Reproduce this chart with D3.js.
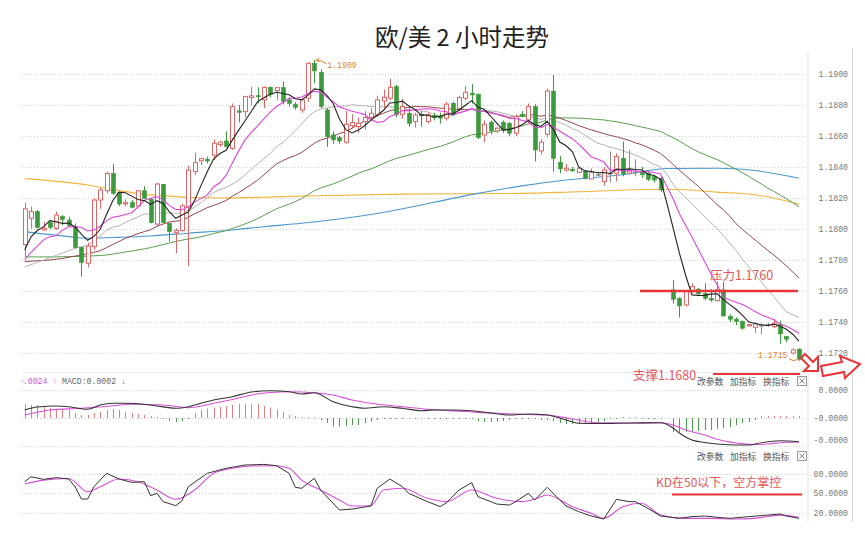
<!DOCTYPE html>
<html><head><meta charset="utf-8">
<script src="https://cdn.jsdelivr.net/npm/d3@7/dist/d3.min.js"></script>
<style>body{margin:0;background:#fff}svg{display:block}</style>
</head><body>
<svg id="c" width="865" height="533"></svg>
<script>
// ---------- DATA ----------
const titleText = "欧/美 2 小时走势";
const priceTicks = [1.19,1.188,1.186,1.184,1.182,1.18,1.178,1.176,1.174,1.172];
const candleOpen = [1.1790,1.18069,1.18112,1.17994,1.18041,1.18004,1.1808,1.18058,1.18015,1.17882,1.17779,1.17886,1.18187,1.18247,1.18359,1.18234,1.18161,1.1817,1.18148,1.18247,1.18192,1.18032,1.18288,1.18036,1.17976,1.1799,1.1814,1.1837,1.1844,1.1845,1.18477,1.18545,1.18568,1.1852,1.18762,1.18757,1.18848,1.1886,1.18833,1.18914,1.18893,1.18912,1.18833,1.18805,1.18768,1.18844,1.19069,1.19011,1.18768,1.18607,1.1859,1.1856,1.18667,1.18661,1.18693,1.18719,1.18736,1.18826,1.18844,1.18919,1.1874,1.18747,1.18693,1.1874,1.18693,1.18732,1.18725,1.18715,1.18811,1.18779,1.18844,1.18876,1.18869,1.18607,1.18689,1.18633,1.18689,1.18682,1.18618,1.1874,1.18704,1.1879,1.18504,1.18611,1.1889,1.1843,1.1838,1.18385,1.18366,1.1837,1.18323,1.18353,1.18306,1.1836,1.1836,1.18456,1.1836,1.18368,1.18372,1.1836,1.18338,1.18327,null,1.17607,1.17553,1.1751,1.17596,1.17611,1.17585,1.17553,1.17538,1.17607,1.17435,1.17418,1.17403,1.17375,1.17366,1.17379,1.17382,1.1737,1.17385,1.17306,1.172,1.17225];
const candleHigh = [1.1817,1.18144,1.18123,1.18047,1.1805,1.18112,1.1809,1.1808,1.18036,1.17886,1.17912,1.18198,1.18265,1.1837,1.1842,1.1824,1.18192,1.18187,1.18252,1.18277,1.18198,1.18299,1.1829,1.18041,1.18004,1.18161,1.1841,1.18493,1.18456,1.18467,1.18578,1.1857,1.1863,1.1881,1.188,1.1886,1.18918,1.18914,1.1892,1.1892,1.18915,1.18951,1.1885,1.1882,1.1884,1.19075,1.1909,1.1903,1.1878,1.1863,1.186,1.18762,1.1874,1.1872,1.1876,1.1878,1.1886,1.189,1.18969,1.1893,1.1884,1.1878,1.1875,1.1876,1.1875,1.1875,1.1875,1.1882,1.1882,1.1886,1.18922,1.18935,1.18875,1.187,1.187,1.1866,1.187,1.1869,1.1874,1.1876,1.1881,1.18805,1.1858,1.18905,1.18995,1.1847,1.1842,1.184,1.184,1.1838,1.1839,1.1837,1.184,1.185,1.18488,1.18564,1.1851,1.1845,1.184,1.1837,1.1835,1.1834,null,1.1767,1.1756,1.17605,1.1765,1.1762,1.1765,1.1761,1.1766,1.1766,1.1745,1.1743,1.1741,1.1739,1.174,1.1739,1.17395,1.1742,1.1741,1.1731,1.1723,1.1723];
const candleLow = [1.1782,1.18004,1.18004,1.1799,1.180,1.17994,1.18026,1.18015,1.17876,1.17693,1.17753,1.17865,1.1813,1.1823,1.1822,1.18148,1.18144,1.18133,1.1814,1.18192,1.18036,1.18015,1.18036,1.17919,1.17843,1.17983,1.1776,1.18349,1.18413,1.18424,1.18445,1.1853,1.18526,1.1851,1.18686,1.1872,1.188,1.1881,1.1878,1.1885,1.1883,1.18805,1.1879,1.1877,1.1875,1.1882,1.18939,1.1878,1.1853,1.1855,1.1855,1.1855,1.1865,1.1862,1.1864,1.187,1.1872,1.1878,1.1883,1.1872,1.1871,1.1866,1.18655,1.1866,1.1868,1.187,1.1868,1.187,1.1873,1.1876,1.1883,1.1881,1.1858,1.1856,1.1861,1.1862,1.1862,1.186,1.186,1.1872,1.1868,1.18436,1.1848,1.1859,1.1837,1.1836,1.1837,1.1837,1.1836,1.1832,1.1832,1.1834,1.1828,1.183,1.18306,1.1834,1.1835,1.1834,1.1833,1.1831,1.183,1.1824,null,1.1752,1.1743,1.175,1.1759,1.1757,1.1754,1.1753,1.1753,1.17435,1.174,1.1738,1.1735,1.1737,1.1733,1.1732,1.1737,1.1736,1.1726,1.1727,1.1719,1.1715];
const candleClose = [1.1813,1.18112,1.18011,1.18004,1.18011,1.1809,1.18062,1.18021,1.1788,1.17783,1.1789,1.18187,1.18252,1.18359,1.1823,1.18161,1.1817,1.1814,1.18247,1.18198,1.18041,1.1829,1.18041,1.17983,1.1799,1.18149,1.1838,1.18428,1.18454,1.18439,1.18553,1.1856,1.18532,1.1879,1.18753,1.18854,1.18859,1.18854,1.18914,1.18869,1.18912,1.18822,1.18811,1.18785,1.18833,1.19069,1.1902,1.1879,1.18596,1.18575,1.18568,1.18676,1.18687,1.18682,1.18719,1.18747,1.18833,1.1885,1.18914,1.18736,1.1879,1.18682,1.18736,1.1873,1.18736,1.18721,1.18715,1.18805,1.1874,1.18848,1.18882,1.18865,1.1859,1.18676,1.18633,1.1865,1.18639,1.18618,1.18725,1.18727,1.1879,1.1851,1.1856,1.1889,1.18456,1.18388,1.18392,1.18375,1.18392,1.18328,1.18366,1.18353,1.18381,1.1836,1.18467,1.18355,1.18375,1.18368,1.1835,1.18321,1.18316,1.18252,null,1.17547,1.17504,1.17596,1.17628,1.17581,1.17553,1.17542,1.17607,1.17439,1.17418,1.17403,1.1736,1.17383,1.17388,1.17379,1.17382,1.17392,1.17323,1.17289,1.1722,1.1716];
const ma5 = [1.17865,1.1795,1.1799,1.18015,1.18054,1.18046,1.18036,1.18038,1.18013,1.17967,1.17927,1.17952,1.17998,1.18094,1.18184,1.18238,1.18234,1.18212,1.1819,1.18183,1.18159,1.18183,1.18163,1.18111,1.18069,1.18091,1.18109,1.18186,1.1828,1.1837,1.18451,1.18487,1.18508,1.18575,1.18638,1.18698,1.18758,1.18822,1.18847,1.1887,1.18882,1.18874,1.18866,1.1884,1.18833,1.18864,1.18904,1.18899,1.18862,1.1881,1.1871,1.18641,1.1862,1.18638,1.18666,1.18702,1.18734,1.18766,1.18813,1.18816,1.18825,1.18794,1.18772,1.18735,1.18735,1.18721,1.18728,1.18741,1.18743,1.18766,1.18798,1.18828,1.18785,1.18772,1.18729,1.18683,1.18638,1.18643,1.18653,1.18672,1.187,1.18674,1.18662,1.18695,1.18641,1.18561,1.18537,1.185,1.18401,1.18375,1.18371,1.18363,1.18364,1.18358,1.18386,1.18384,1.18388,1.18384,1.18382,1.18353,1.18345,1.18321,1.18168,1.18007,1.17844,1.177,1.17575,1.17571,1.17572,1.1758,1.17582,1.17544,1.17512,1.17482,1.17445,1.17401,1.1739,1.17382,1.17378,1.17385,1.17373,1.17353,1.17321,1.17277];
const ma10 = [1.178,1.1785,1.1789,1.1793,1.1795,1.17956,1.17993,1.18014,1.18014,1.18011,1.17987,1.17994,1.18018,1.18054,1.18076,1.18083,1.18093,1.18105,1.18142,1.18184,1.18199,1.18209,1.18188,1.18151,1.18126,1.18125,1.18146,1.18175,1.18196,1.1822,1.18271,1.18298,1.18347,1.18428,1.18504,1.18575,1.18623,1.18665,1.18711,1.18754,1.1879,1.18816,1.18844,1.18844,1.18852,1.18873,1.18889,1.18883,1.18851,1.18822,1.18787,1.18773,1.1876,1.1875,1.18738,1.18706,1.18688,1.18693,1.18726,1.18741,1.18764,1.18764,1.18769,1.18774,1.18776,1.18773,1.18761,1.18757,1.18739,1.18751,1.1876,1.18778,1.18763,1.18758,1.18748,1.18741,1.18733,1.18714,1.18713,1.18701,1.18692,1.18656,1.18653,1.18674,1.18657,1.18631,1.18606,1.18581,1.18548,1.18508,1.18466,1.1845,1.18432,1.1838,1.18381,1.18378,1.18376,1.18374,1.1837,1.1837,1.18365,1.18355,1.18276,1.18195,1.18099,1.18023,1.17948,1.1787,1.1779,1.17712,1.17641,1.1756,1.17542,1.17527,1.17513,1.17492,1.17467,1.17447,1.1743,1.17415,1.17387,1.17372,1.17352,1.17328];
const ma20 = [1.17757,1.1777,1.17785,1.178,1.17815,1.1783,1.17845,1.1786,1.17875,1.17885,1.17894,1.17922,1.17954,1.17992,1.18013,1.1802,1.18043,1.1806,1.18078,1.18098,1.18093,1.18102,1.18103,1.18103,1.18101,1.18104,1.1812,1.1814,1.18169,1.18202,1.18235,1.18254,1.18268,1.1829,1.18315,1.1835,1.18385,1.1842,1.18454,1.18487,1.18531,1.18557,1.18596,1.18636,1.18678,1.18724,1.18756,1.18774,1.18781,1.18788,1.18789,1.18795,1.18802,1.18797,1.18795,1.1879,1.18789,1.18788,1.18789,1.18782,1.18776,1.18769,1.18765,1.18762,1.18757,1.1874,1.18725,1.18725,1.18733,1.18746,1.18762,1.18771,1.18766,1.18766,1.18762,1.18757,1.18747,1.18736,1.18726,1.18726,1.18726,1.18717,1.18708,1.18716,1.18703,1.18686,1.1867,1.18648,1.18631,1.18605,1.18579,1.18553,1.18543,1.18527,1.18519,1.18505,1.18491,1.18478,1.18459,1.18439,1.18416,1.18403,1.18354,1.18288,1.1824,1.18201,1.18162,1.18122,1.1808,1.18041,1.18003,1.17958,1.17909,1.17861,1.17806,1.17758,1.17708,1.17659,1.1761,1.17564,1.17514,1.17466,1.17447,1.17428];
const ma30 = [1.1779,1.17792,1.17795,1.17797,1.178,1.17805,1.1781,1.17818,1.17825,1.17832,1.1784,1.1785,1.1786,1.1788,1.179,1.1792,1.1794,1.17955,1.1797,1.17983,1.17995,1.18018,1.18032,1.18045,1.18051,1.18055,1.18077,1.18098,1.18117,1.18138,1.18152,1.18167,1.18184,1.18211,1.18235,1.18261,1.18287,1.18315,1.1835,1.18386,1.1842,1.18441,1.1846,1.18474,1.18494,1.18524,1.18553,1.18574,1.18586,1.18599,1.18616,1.18629,1.1865,1.18674,1.18698,1.18718,1.18733,1.18747,1.18763,1.18772,1.1878,1.18784,1.18791,1.18789,1.18789,1.18784,1.18779,1.18778,1.18772,1.18771,1.1877,1.18772,1.18764,1.18761,1.18754,1.1874,1.18727,1.18721,1.18726,1.18731,1.18739,1.18733,1.18728,1.18735,1.18727,1.18715,1.187,1.18684,1.18667,1.18653,1.18639,1.18628,1.18616,1.18604,1.18595,1.18583,1.18572,1.18556,1.18544,1.18526,1.18508,1.18487,1.18454,1.18416,1.18379,1.18344,1.1831,1.18275,1.18236,1.18197,1.18157,1.18122,1.18083,1.18034,1.17998,1.17964,1.1793,1.17897,1.17863,1.17832,1.17798,1.17762,1.17723,1.17683];
const ma60 = [1.1782,1.1782,1.1782,1.1782,1.1782,1.1782,1.17821,1.17822,1.17823,1.17824,1.17825,1.17827,1.17829,1.17832,1.17838,1.17845,1.17852,1.17858,1.17865,1.17872,1.1788,1.1789,1.179,1.1791,1.1792,1.17928,1.17935,1.17942,1.1795,1.1796,1.17971,1.1798,1.1799,1.18004,1.18018,1.18033,1.18049,1.18067,1.18088,1.18109,1.1813,1.18146,1.1816,1.18177,1.18197,1.18222,1.18247,1.18265,1.18278,1.18291,1.18306,1.18324,1.18341,1.1836,1.18375,1.18387,1.18405,1.18423,1.1844,1.18455,1.18466,1.18476,1.18488,1.185,1.18512,1.18523,1.18533,1.18547,1.18561,1.18579,1.18595,1.18607,1.18612,1.18618,1.18624,1.18632,1.1864,1.18648,1.18656,1.18665,1.18678,1.18681,1.18689,1.18705,1.18713,1.18717,1.18717,1.18716,1.18715,1.18713,1.1871,1.18706,1.18704,1.18697,1.18692,1.18684,1.18676,1.18667,1.18658,1.18649,1.18639,1.1863,1.18609,1.18589,1.18567,1.18542,1.18519,1.18498,1.18481,1.18464,1.18448,1.18428,1.18406,1.18385,1.18363,1.1834,1.18315,1.18291,1.18265,1.18243,1.18219,1.18195,1.1817,1.18144];
const maBlue = [[0,1.17983],[7,1.17951],[10,1.1794],[14,1.17945],[20,1.17955],[26,1.17973],[33,1.17994],[38,1.18015],[44,1.18037],[56,1.181],[72,1.1823],[79,1.18278],[86,1.18316],[95,1.1835],[102,1.1839],[110,1.18392],[116,1.18377],[123,1.18327]];
const maOrange = [[0,1.18325],[10,1.18284],[15,1.18248],[20,1.1822],[31,1.182],[41,1.18209],[60,1.18225],[79,1.1823],[88,1.1824],[102,1.18256],[110,1.18238],[117,1.18215],[123,1.1816]];
const macdDif = [[0,0.0008],[2,0.0011],[5,0.0012],[7,0.00113],[10,0.00087],[12,0.0013],[14,0.00147],[16,0.00147],[19,0.00137],[21,0.0012],[24,0.00097],[26,0.00113],[28,0.00147],[30,0.0018],[33,0.00213],[36,0.0026],[39,0.00273],[42,0.00263],[44,0.0024],[46,0.00253],[49,0.00163],[52,0.00113],[54,0.00097],[57,0.00113],[60,0.00097],[63,0.00073],[65,0.0008],[68,0.0008],[71,0.00073],[74,0.0005],[77,0.0003],[80,0.0004],[83,0.0003],[86,-0.0002],[88,-0.00053],[91,-0.00055],[94,-0.00053],[97,-0.0005],[101,-0.00047],[103,-0.001],[104,-0.0015],[105,-0.0019],[106,-0.0022],[108,-0.00245],[110,-0.0026],[113,-0.0027],[115,-0.0027],[117,-0.00247],[120,-0.00227],[123,-0.00237]];
const macdDea = [[0,0.0003],[4,0.0008],[9,0.00097],[13,0.00115],[17,0.00137],[22,0.0013],[26,0.00103],[30,0.00147],[33,0.00185],[36,0.0023],[39,0.00255],[42,0.00263],[46,0.00253],[49,0.0023],[52,0.0018],[55,0.00147],[60,0.00113],[64,0.00087],[70,0.00065],[75,0.00047],[80,0.00035],[83,0.0003],[87,-0.0001],[91,-0.00047],[96,-0.0005],[101,-0.00047],[103,-0.0007],[105,-0.0012],[108,-0.0017],[110,-0.00213],[113,-0.0025],[116,-0.00265],[118,-0.0026],[120,-0.00247],[123,-0.0024]];
const macdHist = [0.0014,0.0013,0.0013,0.0011,0.001,0.0009,0.0009,0.0008,0.0005,0.0003,0.0003,0.0005,0.0006,0.0008,0.0009,0.0008,0.0006,0.0005,0.0004,0.0003,0.0002,0.0001,-0.0001,-0.0003,-0.0004,-0.0003,-0.0001,0.0005,0.0008,0.00095,0.00105,0.0011,0.0012,0.0013,0.0014,0.00145,0.00145,0.0014,0.0012,0.00105,0.00085,0.0006,0.0003,0.0002,0.0001,0.0001,0.0001,-0.0002,-0.0005,-0.00085,-0.00085,-0.0008,-0.0007,-0.0007,-0.0005,-0.00035,-0.0002,-0.0001,-0.0001,-0.0001,-0.0001,-0.0001,-0.0001,-0.0001,-0.0001,-0.0001,-0.0001,-0.0001,-0.0001,-0.0001,-0.0001,-0.0001,-0.0003,-0.0004,-0.0004,-0.00035,-0.0003,-0.0002,-0.0001,-0.0001,-0.0001,-0.0001,-0.0002,-0.0002,-0.0003,-0.0005,-0.0006,-0.0006,-0.0006,-0.0006,-0.0005,-0.0004,-0.0003,-0.0001,-0.0001,0.0001,0.0001,0.0001,-0.0001,-0.0001,-0.0001,-0.0001,null,-0.0014,-0.0014,-0.0014,-0.0013,-0.0013,-0.0012,-0.0012,-0.0011,-0.001,-0.0009,-0.0007,-0.0005,-0.0004,-0.0002,0.0002,0.0002,0.0002,0.0002,0.0002,0.0002,0.0002];
const macdTickVals = [0.0028,0,-0.0022];
const macdTickLabels = ["0.0000","-0.0000","-0.0000"];
const kdK = [[0,67.4],[1,75],[3,71],[5,73.6],[7,71.5],[8,59.7],[9,40.8],[10,40.8],[11,59.7],[13,80.3],[15,71.5],[17,66.4],[19,67.4],[20,45.9],[21,49.5],[22,36.7],[24,30.5],[25,38.2],[26,59.7],[29,80.3],[32,88],[35,93],[38,94],[40,92],[42,80.3],[43,58.7],[44,57.2],[46,72.6],[47,54.6],[50,23.8],[52,25.3],[55,30],[56,57.2],[58,71.5],[60,59.7],[61,49.5],[64,36.7],[66,29],[67,35],[69,54.6],[71,65.8],[72,44.3],[75,33],[77,31.5],[78,36.7],[80,49.5],[81,39.2],[83,58.8],[85,39.2],[86,30],[88,21.3],[90,14.6],[92,10],[94,40.3],[96,36.7],[97,36.7],[99,26.4],[101,14.6],[104,11],[106,13.6],[108,14.6],[110,12.6],[112,11],[115,13.6],[118,16],[120,17.7],[121,14.6],[123,11]];
const kdD = [[0,63.8],[3,69.8],[7,72.3],[10,52],[12,59.7],[15,71.5],[18,67.4],[21,54.6],[24,40.3],[27,54.6],[30,80.3],[33,88],[36,91.5],[40,92],[42,88],[44,69.8],[47,54.6],[50,39.2],[52,30],[55,30.5],[57,54.6],[60,57.2],[64,41.8],[67,36.7],[71,54.6],[75,41.8],[79,36.7],[81,40.3],[83,47],[87,29],[90,18.7],[92,11],[95,29],[98,34.2],[101,16.2],[105,11],[109,11],[113,10],[116,11],[120,16],[123,12.6]];
const kdTicks = [80,50,20];
const kdTickLabels = ["80.0000","50.0000","20.0000"];
const toolLabels = ["改参数","加指标","换指标"];
const highLabel = "1.1909", lowLabel = "1.1715";
const resistanceLevel = 1.176, resistanceText = "压力1.1760";
const supportText = "支撑1.1680";
const kdNote = "KD在50以下，空方掌控";
const macdHeaderA = "-0.0024 ↑", macdHeaderB = "MACD:0.0002 ↓";

// ---------- SCALES ----------
const svg = d3.select("#c");
const nSlots = candleOpen.length;
const x = d3.scaleLinear().domain([0, nSlots-1]).range([24.7, 799]);
const y = d3.scaleLinear().domain([1.172, 1.19]).range([353, 74]);
const ym = d3.scaleLinear().domain([-0.0028, 0.0028]).range([446, 390]);
const yk = d3.scaleLinear().domain([20, 80]).range([512.5, 473.5]);
const L = 22, R = 808;
const defs = svg.append("defs");
function clip(id, x0, y0, w, h){ defs.append("clipPath").attr("id", id).append("rect").attr("x",x0).attr("y",y0).attr("width",w).attr("height",h); }
clip("cMain", L, 50, R-L, 320);
clip("cMacd", L, 372, R-L, 74);
clip("cKd", L, 446, R-L, 76);
clip("cHdr", 22, 370, 300, 20);
clip("cAxM", 808, 372, 57, 72);

const RED = "#dd6666", GREEN = "#3b9a3b", DOJI = "#8a8a8a";
const grid = "#cfcfcf";

// frame lines
svg.append("line").attr("x1",R).attr("x2",R).attr("y1",52).attr("y2",522).attr("stroke","#e2e2e2");
svg.append("line").attr("x1",852.5).attr("x2",852.5).attr("y1",48).attr("y2",522).attr("stroke","#d4d4d4");
svg.append("line").attr("x1",L).attr("x2",R).attr("y1",372.5).attr("y2",372.5).attr("stroke","#ececec");

// title
svg.append("text").attr("x",462).attr("y",46).attr("text-anchor","middle")
  .attr("font-family","'Noto Sans CJK SC'").attr("font-size",23.5).attr("fill","#222").text(titleText);

// ---------- MAIN PANEL ----------
const gm = svg.append("g").attr("clip-path","url(#cMain)");
gm.selectAll("line.g").data(priceTicks).join("line")
  .attr("x1",L).attr("x2",R-2).attr("y1",d=>Math.round(y(d))+0.5).attr("y2",d=>Math.round(y(d))+0.5)
  .attr("stroke",grid).attr("stroke-dasharray","1,2");

const fullLine = d3.line().defined(d=>d!=null).x((d,i)=>x(i)).y(d=>y(d));
const ptLine = d3.line().x(d=>x(d[0])).y(d=>y(d[1])).curve(d3.curveMonotoneX);
gm.append("path").attr("d",ptLine(maOrange)).attr("fill","none").attr("stroke","#f2b43a").attr("stroke-width",1.1);
gm.append("path").attr("d",ptLine(maBlue)).attr("fill","none").attr("stroke","#4a98cf").attr("stroke-width",1.1);
gm.append("path").attr("d",fullLine(ma60)).attr("fill","none").attr("stroke","#58a04c").attr("stroke-width",1);
gm.append("path").attr("d",fullLine(ma30)).attr("fill","none").attr("stroke","#934848").attr("stroke-width",1);
gm.append("path").attr("d",fullLine(ma20)).attr("fill","none").attr("stroke","#b3b3b3").attr("stroke-width",1);

// candles
const cd = d3.range(nSlots).filter(i=>candleOpen[i]!=null).map(i=>({i,o:candleOpen[i],h:candleHigh[i],l:candleLow[i],c:candleClose[i]}));
const col = d=> d.c>d.o ? RED : (d.c<d.o ? GREEN : DOJI);
const gc = gm.append("g");
gc.selectAll("line.w").data(cd).join("line")
  .attr("x1",d=>Math.round(x(d.i))+0.5).attr("x2",d=>Math.round(x(d.i))+0.5)
  .attr("y1",d=>y(d.h)).attr("y2",d=>y(d.l)).attr("stroke",col).attr("stroke-width",1);
gc.selectAll("rect.b").data(cd).join("rect")
  .attr("x",d=>Math.round(x(d.i))-1.5).attr("width",4)
  .attr("y",d=>y(Math.max(d.o,d.c))).attr("height",d=>Math.max(1,y(Math.min(d.o,d.c))-y(Math.max(d.o,d.c))))
  .attr("fill",d=>d.c>d.o?"#fff":col(d)).attr("stroke",col).attr("stroke-width",d=>d.c>d.o?1:0.6);

gm.append("path").attr("d",fullLine(ma10)).attr("fill","none").attr("stroke","#e044dc").attr("stroke-width",1.1);
gm.append("path").attr("d",fullLine(ma5)).attr("fill","none").attr("stroke","#222").attr("stroke-width",1.1);

// price axis labels
const monoF = "'Liberation Mono','DejaVu Sans Mono',monospace";
svg.selectAll("text.pl").data(priceTicks).join("text")
  .attr("x",848).attr("y",d=>y(d)+3).attr("text-anchor","end")
  .attr("font-family",monoF).attr("font-size",8.2).attr("fill","#777").text(d=>d.toFixed(4));

// high / low labels
const hiIdx = candleHigh.indexOf(d3.max(candleHigh));
const loIdx = candleLow.indexOf(d3.min(candleLow.filter(v=>v!=null)));
const ORG = "#e0822a";
svg.append("path").attr("d",`M${x(hiIdx)+12},${y(1.1909)+4} Q${x(hiIdx)+8},${y(1.1909)} ${x(hiIdx)+2},${y(1.1909)}`).attr("fill","none").attr("stroke",ORG);
svg.append("path").attr("d",`M${x(hiIdx)+2},${y(1.1909)} l3,-2 M${x(hiIdx)+2},${y(1.1909)} l3,2`).attr("stroke",ORG);
svg.append("text").attr("x",x(hiIdx)+13).attr("y",y(1.1909)+8).attr("font-family",monoF).attr("font-size",8.2).attr("fill",ORG).text(highLabel);
svg.append("text").attr("x",x(loIdx)-41).attr("y",y(1.1715)-3).attr("font-family",monoF).attr("font-size",8.2).attr("fill",ORG).text(lowLabel);
svg.append("path").attr("d",`M${x(loIdx)-10},${y(1.1715)-2} Q${x(loIdx)-6},${y(1.1715)+1} ${x(loIdx)-2},${y(1.1715)-1}`).attr("fill","none").attr("stroke",ORG);

// ---------- MACD PANEL ----------
const gM = svg.append("g").attr("clip-path","url(#cMacd)");
gM.selectAll("line.g").data([macdTickVals[0],macdTickVals[1]]).join("line")
  .attr("x1",L).attr("x2",R-2).attr("y1",d=>Math.round(ym(d))+0.5).attr("y2",d=>Math.round(ym(d))+0.5)
  .attr("stroke",grid).attr("stroke-dasharray","1,2");
const hd = d3.range(nSlots).filter(i=>macdHist[i]!=null).map(i=>({i,v:macdHist[i]}));
gM.selectAll("line.h").data(hd).join("line")
  .attr("x1",d=>Math.round(x(d.i))+0.5).attr("x2",d=>Math.round(x(d.i))+0.5)
  .attr("y1",ym(0)).attr("y2",d=>ym(d.v)).attr("stroke",d=>d.v>=0?"#e08080":"#4f9e4f").attr("stroke-width",1);
const mLine = d3.line().x(d=>x(d[0])).y(d=>ym(d[1])).curve(d3.curveMonotoneX);
gM.append("path").attr("d",mLine(macdDea)).attr("fill","none").attr("stroke","#d64fd6").attr("stroke-width",1.1);
gM.append("path").attr("d",mLine(macdDif)).attr("fill","none").attr("stroke","#333").attr("stroke-width",1.1);
const gAxM = svg.append("g").attr("clip-path","url(#cAxM)");
gAxM.selectAll("text").data(macdTickVals).join("text")
  .attr("x",848).attr("y",d=>ym(d)+3).attr("text-anchor","end")
  .attr("font-family",monoF).attr("font-size",8.2).attr("fill","#777").text((d,i)=>macdTickLabels[i]);
const hdr = svg.append("g").attr("clip-path","url(#cHdr)");
hdr.append("text").attr("x",13).attr("y",384).attr("font-family",monoF).attr("font-size",8.2).attr("fill","#d64fd6").text(macdHeaderA);
hdr.append("text").attr("x",62).attr("y",384).attr("font-family",monoF).attr("font-size",8.2).attr("fill","#666").text(macdHeaderB);

// tool bars
function tools(yb){
  const xs=[697,730,763];
  toolLabels.forEach((t,i)=>svg.append("text").attr("x",xs[i]).attr("y",yb).attr("font-family","'Noto Sans CJK SC'").attr("font-size",8.8).attr("fill","#555").text(t));
  svg.append("rect").attr("x",797.5).attr("y",yb-8.5).attr("width",9).attr("height",9).attr("fill","#fff").attr("stroke","#999");
  svg.append("path").attr("d",`M799.5,${yb-6.5} l5,5 M804.5,${yb-6.5} l-5,5`).attr("stroke","#888");
}
tools(385); tools(460);

// ---------- KD PANEL ----------
const gK = svg.append("g").attr("clip-path","url(#cKd)");
gK.selectAll("line.g").data([...kdTicks]).join("line")
  .attr("x1",L).attr("x2",R-2).attr("y1",d=>Math.round(yk(d))+0.5).attr("y2",d=>Math.round(yk(d))+0.5)
  .attr("stroke",grid).attr("stroke-dasharray","1,2");
svg.append("line").attr("x1",L).attr("x2",R-2).attr("y1",446.5).attr("y2",446.5).attr("stroke",grid).attr("stroke-dasharray","1,2");
const kLineL = d3.line().x(d=>x(d[0])).y(d=>yk(d[1]));
const kLineS = d3.line().x(d=>x(d[0])).y(d=>yk(d[1])).curve(d3.curveMonotoneX);
gK.append("path").attr("d",kLineS(kdD)).attr("fill","none").attr("stroke","#d64fd6").attr("stroke-width",1.1);
gK.append("path").attr("d",kLineL(kdK)).attr("fill","none").attr("stroke","#333").attr("stroke-width",1);
svg.selectAll("text.kl").data(kdTicks).join("text")
  .attr("x",848).attr("y",d=>yk(d)+3).attr("text-anchor","end")
  .attr("font-family",monoF).attr("font-size",8.2).attr("fill","#777").text((d,i)=>kdTickLabels[i]);

// ---------- ANNOTATIONS ----------
const AR = "#e8343a", AT = "#e5575a";
const cjk = "'Noto Sans CJK SC'";
svg.append("line").attr("x1",640).attr("x2",798).attr("y1",y(resistanceLevel)).attr("y2",y(resistanceLevel)).attr("stroke",AR).attr("stroke-width",2.6);
svg.append("text").attr("x",710).attr("y",280).attr("font-family",cjk).attr("font-size",12.5).attr("fill",AT).text(resistanceText);
svg.append("text").attr("x",633).attr("y",380).attr("font-family",cjk).attr("font-size",12.5).attr("fill",AT).text(supportText);
svg.append("line").attr("x1",713).attr("x2",800).attr("y1",374).attr("y2",374).attr("stroke",AR).attr("stroke-width",2.2);
svg.append("text").attr("x",656).attr("y",487).attr("font-family",cjk).attr("font-size",12).attr("fill",AT).text(kdNote);
svg.append("line").attr("x1",672).attr("x2",802).attr("y1",494.5).attr("y2",494.5).attr("stroke",AR).attr("stroke-width",2.2);
// hollow arrows
svg.append("path").attr("d","M801,368 L809,360 L804,355 L818,355 L818,369 L813,364 L805,372 Z")
  .attr("fill","#fff").attr("stroke",AR).attr("stroke-width",2).attr("transform","rotate(90 810 363)");
svg.append("path").attr("d","M821,366 L842,362 L840,356 L860,364 L845,378 L844,372 L823,376 Z")
  .attr("fill","#fff").attr("stroke",AR).attr("stroke-width",2);
</script>
</body></html>
